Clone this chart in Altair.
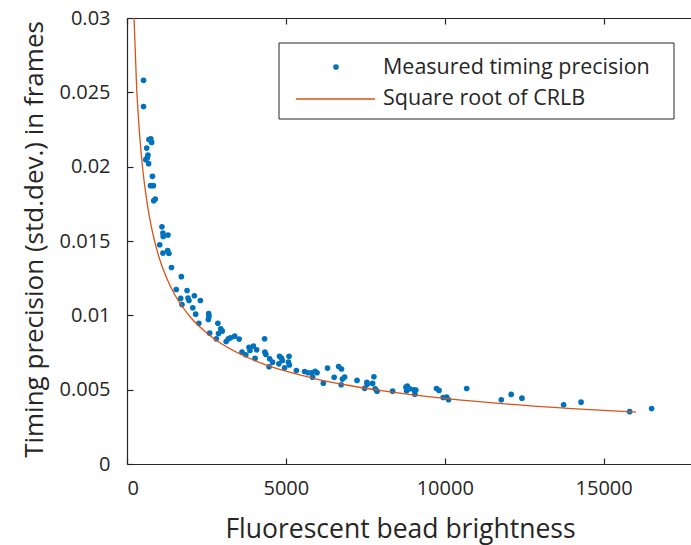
import altair as alt
import pandas as pd

# ---- data ----
brightness = [520, 520, 690, 750, 775, 620, 660, 640, 590, 680,
              800, 740, 830, 840, 890, 1100, 1130, 1140, 1290, 1030,
              1130, 1280, 1320, 1400, 1710, 1550, 1890, 1690, 1920, 1950,
              2120, 2310, 2070, 1730, 2160, 2260, 2570, 2580, 2560, 2860,
              2600, 2880, 2950, 3000, 2810, 3120, 3190, 3260, 3390, 3530,
              4330, 3620, 3740, 3840, 3980, 3870, 4080, 4030, 4340, 4370,
              4470, 4490, 4580, 4800, 4860, 4890, 5100, 4780, 4960, 5080,
              5110, 5330, 5590, 5700, 5810, 5840, 5920, 5980, 6180, 6310,
              6520, 6660, 6750, 6740, 6780, 6850, 7240, 7480, 7550, 7560,
              7730, 7770, 7810, 7870, 8360, 8780, 8820, 8900, 9030, 9090,
              9060, 8800, 9740, 9820, 9950, 10060, 10120, 10690, 11780, 12090,
              12430, 13740, 14290, 15820, 16510]
precision = [0.02581, 0.02404, 0.02182, 0.02188, 0.02163, 0.02125, 0.02078, 0.02060, 0.02047, 0.02020,
             0.01935, 0.01872, 0.01872, 0.01771, 0.01782, 0.01596, 0.01553, 0.01531, 0.01540, 0.01475,
             0.01418, 0.01435, 0.01416, 0.01322, 0.01260, 0.01174, 0.01167, 0.01114, 0.01116, 0.01100,
             0.01132, 0.01100, 0.01051, 0.01073, 0.01008, 0.00947, 0.01011, 0.00993, 0.00972, 0.00947,
             0.00880, 0.00878, 0.00910, 0.00894, 0.00842, 0.00824, 0.00842, 0.00849, 0.00860, 0.00840,
             0.00842, 0.00752, 0.00735, 0.00784, 0.00793, 0.00764, 0.00768, 0.00710, 0.00752, 0.00737,
             0.00654, 0.00708, 0.00685, 0.00725, 0.00712, 0.00696, 0.00725, 0.00674, 0.00647, 0.00685,
             0.00666, 0.00629, 0.00622, 0.00614, 0.00614, 0.00584, 0.00624, 0.00614, 0.00544, 0.00645,
             0.00583, 0.00656, 0.00639, 0.00533, 0.00571, 0.00585, 0.00562, 0.00509, 0.00550, 0.00536,
             0.00542, 0.00587, 0.00506, 0.00490, 0.00490, 0.00517, 0.00524, 0.00506, 0.00499, 0.00497,
             0.00470, 0.00493, 0.00508, 0.00495, 0.00447, 0.00450, 0.00432, 0.00508, 0.00432, 0.00468,
             0.00443, 0.00398, 0.00416, 0.00352, 0.00373]

crlb_brightness = [200, 300, 400, 500, 600, 700, 850, 1000, 1250, 1500, 2000, 2500,
                   3000, 4000, 5000, 6000, 7000, 8000, 10000, 12000, 14000, 16020]
crlb_precision = [0.03122, 0.02549, 0.02208, 0.01974, 0.01803, 0.01669, 0.01515, 0.01396,
                  0.01249, 0.01140, 0.00987, 0.00883, 0.00806, 0.00698, 0.00624, 0.00570,
                  0.00528, 0.00494, 0.00442, 0.00403, 0.00373, 0.00349]

x_ticks = [0, 5000, 10000, 15000]
y_ticks = [0, 0.005, 0.01, 0.015, 0.02, 0.025, 0.03]
legend_labels = ["Measured timing precision", "Square root of CRLB"]

# ---- styling ----
FONT = "Open Sans"
TXT = "#262626"
BLUE = "#0072BD"
ORANGE = "#D95319"
W, H = 564, 446
X_MAX = 17750

df_pts = pd.DataFrame({"b": brightness, "p": precision})
df_line = pd.DataFrame({"b": crlb_brightness, "p": crlb_precision})

xs = alt.Scale(domain=[0, X_MAX], nice=False, zero=False)
ys = alt.Scale(domain=[0, 0.03], nice=False)

main_x = alt.Axis(orient="bottom", values=x_ticks, format="d", ticks=False, tickSize=0,
                  labelFontSize=20, labelPadding=14, labelFont=FONT, labelColor=TXT,
                  title="Fluorescent bead brightness", titleFont=FONT, titleFontSize=26.5,
                  titleFontWeight="normal", titleColor=TXT, titleX=273, titleY=73,
                  titleBaseline="alphabetic", titleAlign="center",
                  grid=False, domainColor=TXT, domainWidth=1.2)
main_y = alt.Axis(orient="left", values=y_ticks, format="~g", ticks=False, tickSize=0,
                  labelFontSize=20, labelPadding=17, labelFont=FONT, labelColor=TXT,
                  title="Timing precision (std.dev.) in frames", titleFont=FONT, titleFontSize=26,
                  titleFontWeight="normal", titleColor=TXT, titleX=-93, titleY=221,
                  titleAngle=270, titleBaseline="middle", titleAlign="center",
                  grid=False, domainColor=TXT, domainWidth=1.2)

# inward ticks along bottom and left edges
tick_bottom = alt.Axis(orient="top", offset=-H, values=x_ticks, labels=False, domain=False,
                       ticks=True, tickSize=6, tickColor=TXT, tickWidth=1.2, grid=False, title="")
tick_left = alt.Axis(orient="right", offset=-W, values=y_ticks, labels=False, domain=False,
                     ticks=True, tickSize=6, tickColor=TXT, tickWidth=1.2, grid=False, title="")
# top border with inward ticks
top_border = alt.Axis(orient="bottom", offset=-H, values=x_ticks, labels=False, domain=True,
                      domainColor=TXT, domainWidth=1.2, ticks=True, tickSize=6, tickColor=TXT,
                      tickWidth=1.2, grid=False, title="")

pts = alt.Chart(df_pts).mark_circle(size=32, color=BLUE, opacity=1).encode(
    x=alt.X("b:Q", scale=xs, axis=main_x),
    y=alt.Y("p:Q", scale=ys, axis=main_y),
)

line = alt.Chart(df_line).mark_line(color=ORANGE, strokeWidth=1.3, interpolate="monotone", clip=True).encode(
    x=alt.X("b:Q", scale=xs, axis=tick_bottom),
    y=alt.Y("p:Q", scale=ys, axis=tick_left),
)

border = alt.Chart(df_line).mark_point(opacity=0).encode(
    x=alt.X("b:Q", scale=xs, axis=top_border),
    y=alt.Y("p:Q", scale=ys, axis=None),
)

# legend (drawn manually to combine a dot and a line entry)
one = pd.DataFrame({"k": [0]})
leg_box = alt.Chart(one).mark_rect(fill="white", stroke=TXT, strokeWidth=1).encode(
    x=alt.value(152), x2=alt.value(547), y=alt.value(25), y2=alt.value(101))
leg_dot = alt.Chart(one).mark_circle(size=32, color=BLUE, opacity=1).encode(
    x=alt.value(209), y=alt.value(49))
leg_line = alt.Chart(one).mark_rule(color=ORANGE, strokeWidth=1.3).encode(
    x=alt.value(169), x2=alt.value(248), y=alt.value(81))
leg_t1 = alt.Chart(one).mark_text(text=legend_labels[0], font=FONT, fontSize=21.5, color=TXT,
                                  align="left", baseline="middle").encode(
    x=alt.value(256), y=alt.value(50))
leg_t2 = alt.Chart(one).mark_text(text=legend_labels[1], font=FONT, fontSize=21.5, color=TXT,
                                  align="left", baseline="middle").encode(
    x=alt.value(256), y=alt.value(81))

chart = alt.layer(pts, line, border, leg_box, leg_dot, leg_line, leg_t1, leg_t2).resolve_axis(
    x="independent", y="independent"
).properties(
    width=W, height=H,
    autosize=alt.AutoSizeParams(type="none"),
    padding={"left": 127, "top": 18, "right": 0, "bottom": 81},
    background="white",
).configure_view(stroke=None)

chart.save("out.html", embed_options={"renderer": "svg", "actions": False})
